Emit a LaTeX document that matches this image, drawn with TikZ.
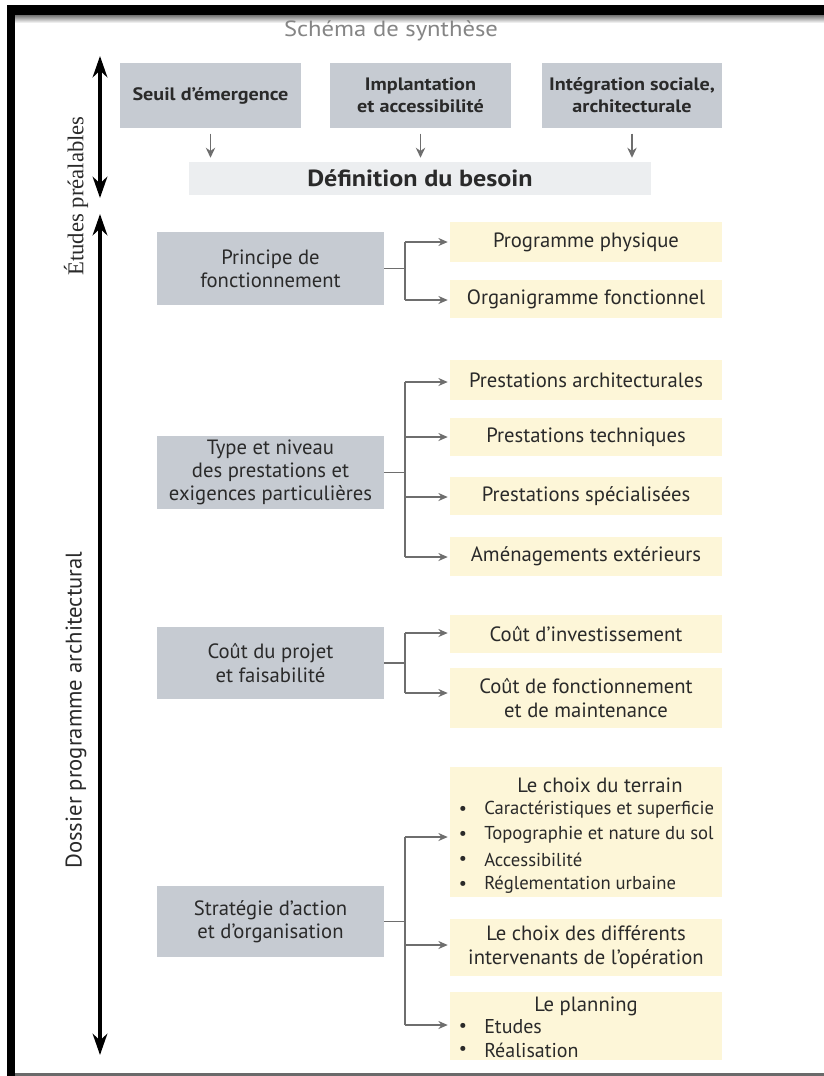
\documentclass[tikz,border=0pt]{standalone}
\usepackage{fontspec}
\setmainfont{PT Sans}
\newfontfamily\seriffam{Liberation Serif}
\newfontfamily\widefam[FakeStretch=1.12]{PT Sans}
\usetikzlibrary{arrows.meta}
\definecolor{boxgray}{HTML}{C6CBD2}
\definecolor{defgray}{HTML}{ECEEF0}
\definecolor{boxyel}{HTML}{FDF6D8}
\definecolor{txt}{HTML}{2A2A2A}
\definecolor{connc}{HTML}{6E6E6E}
\definecolor{titlegray}{HTML}{858585}
\definecolor{bottomgray}{HTML}{6A6A6A}
\begin{document}
\begin{tikzpicture}[x=0.75pt,y=-0.75pt,
  sz/.style 2 args={minimum width=#1*0.75pt, minimum height=#2*0.75pt},
  topbox/.style={fill=boxgray, inner sep=0pt, align=center, text=txt,
    font=\widefam\bfseries\fontsize{13.5}{16.5}\selectfont},
  defbox/.style={fill=defgray, inner sep=0pt, align=center, text=txt,
    font=\widefam\bfseries\fontsize{17.5}{20}\selectfont},
  gbox/.style={fill=boxgray, inner sep=0pt, align=center, text=txt,
    font=\fontsize{15.5}{17.5}\selectfont},
  ybox/.style={fill=boxyel, inner sep=0pt, align=center, text=txt,
    font=\fontsize{15.5}{18.5}\selectfont},
  ytitle/.style={inner sep=0pt, text=txt, font=\fontsize{15.5}{18.5}\selectfont},
  bul/.style={inner sep=0pt, text=txt, font=\fontsize{13.5}{16}\selectfont},
  bultext/.style={inner sep=0pt, anchor=west, text=txt, font=\fontsize{14}{16}\selectfont},
  sidelabel/.style={rotate=90, inner sep=0pt, text=txt},
  bigarrow/.style={{Stealth[length=16pt,width=11pt]}-{Stealth[length=16pt,width=11pt]}, line width=3pt, black},
  darr/.style={-{Stealth[length=7.5pt,width=7pt]}, line width=1.2pt, connc, shorten <=4pt, shorten >=3pt},
  cline/.style={line width=1pt, connc},
  carr/.style={-{Stealth[length=7pt,width=6pt]}, line width=1pt, connc, shorten >=1.5pt}
]
\useasboundingbox (0,0) rectangle (824,1076);
% frame
\fill[white] (0,0) rectangle (824,1076);
\fill[black] (7,5) rectangle (824,15);
\fill[black] (7,5) rectangle (15,1076);
\shade[top color=black!55, bottom color=white] (15,15) rectangle (824,23);
\fill[bottomgray] (15,1073) rectangle (824,1076);

% title
\node[inner sep=0pt, text=titlegray, font=\widefam\fontsize{16.5}{20}\selectfont] (title) at (391,31) {Schéma de synthèse};

% top boxes
\node[topbox, sz={181}{65}] (t1) at (210.5,95.5) {Seuil d’émergence};
\node[topbox, sz={181}{65}] (t2) at (420.5,95.5) {Implantation\\et accessibilité};
\node[topbox, sz={180}{65}] (t3) at (632,95.5) {Intégration sociale,\\architecturale};
\node[defbox, sz={462}{33}] (def) at (420,178.5) {Définition du besoin};
\draw[darr] (t1.south) -- (t1.south |- def.north);
\draw[darr] (t2.south) -- (t2.south |- def.north);
\draw[darr] (t3.south) -- (t3.south |- def.north);

% side arrows and labels
\coordinate (a1t) at (100,56);
\coordinate (a1b) at (100,198);
\coordinate (a2t) at (100,214);
\coordinate (a2b) at (100,1055);
\draw[bigarrow] (a1t) -- (a1b);
\draw[bigarrow] (a2t) -- (a2b);
\node[sidelabel, font=\seriffam\fontsize{17}{20}\selectfont] (etudes) at (76,196) {Études préalables};
\node[sidelabel, font=\fontsize{17}{20}\selectfont] (dossier) at (76,710) {Dossier programme architectural};

% main gray boxes
\node[gbox, sz={227}{73}] (g1) at (270.5,268.5) {Principe de\\fonctionnement};
\node[gbox, sz={227}{73}] (g2) at (270.5,472.5) {Type et niveau\\des prestations et\\exigences particulières};
\node[gbox, sz={227}{72}] (g3) at (270.5,663) {Coût du projet\\et faisabilité};
\node[gbox, sz={227}{71}] (g4) at (270.5,921.5) {Stratégie d’action\\et d’organisation};

% yellow boxes
\node[ybox, sz={272}{40}] (y1a) at (586,242) {Programme physique};
\node[ybox, sz={272}{38}] (y1b) at (586,299) {Organigramme fonctionnel};
\node[ybox, sz={272}{40}] (y2a) at (586,380) {Prestations architecturales};
\node[ybox, sz={272}{38}] (y2b) at (586,437) {Prestations techniques};
\node[ybox, sz={272}{38}] (y2c) at (586,496) {Prestations spécialisées};
\node[ybox, sz={272}{39}] (y2d) at (586,556.5) {Aménagements extérieurs};
\node[ybox, sz={272}{38}] (y3a) at (586,634) {Coût d’investissement};
\node[ybox, sz={272}{60}] (y3b) at (586,698) {Coût de fonctionnement\\et de maintenance};
\node[ybox, sz={272}{130}] (y4a) at (586,832) {};
\node[ybox, sz={272}{57}] (y4b) at (586,947) {Le choix des différents\\intervenants de l’opération};
\node[ybox, sz={272}{68}] (y4c) at (586,1026) {};

% contents of list boxes
\node[ytitle] (y4at) at (600,785) {Le choix du terrain};
\node[bul] (b1) at (463,810) {•};
\node[bultext] (b1t) at (484,810) {Caractéristiques et superficie};
\node[bul] (b2) at (463,835) {•};
\node[bultext] (b2t) at (484,835) {Topographie et nature du sol};
\node[bul] (b3) at (463,860) {•};
\node[bultext] (b3t) at (484,860) {Accessibilité};
\node[bul] (b4) at (463,885) {•};
\node[bultext] (b4t) at (484,885) {Réglementation urbaine};
\node[ytitle] (y4ct) at (586,1006) {Le planning};
\node[bul] (b5) at (463,1027) {•};
\node[bultext, font=\fontsize{15}{18}\selectfont] (b5t) at (484,1027) {Etudes};
\node[bul] (b6) at (463,1050) {•};
\node[bultext, font=\fontsize{15}{18}\selectfont] (b6t) at (484,1050) {Réalisation};

% connectors section 1
\coordinate (r1a) at (405,242);
\coordinate (r1b) at (405,300);
\draw[cline] (g1.east) -- (g1.east -| r1a);
\draw[cline] (r1a) -- (r1b);
\draw[carr] (r1a) -- (r1a -| y1a.west);
\draw[carr] (r1b) -- (r1b -| y1b.west);

% section 2
\coordinate (r2a) at (405,382);
\coordinate (r2b) at (405,437);
\coordinate (r2c) at (405,497);
\coordinate (r2d) at (405,557);
\draw[cline] (g2.east) -- (g2.east -| r2a);
\draw[cline] (r2a) -- (r2d);
\draw[carr] (r2a) -- (r2a -| y2a.west);
\draw[carr] (r2b) -- (r2b -| y2b.west);
\draw[carr] (r2c) -- (r2c -| y2c.west);
\draw[carr] (r2d) -- (r2d -| y2d.west);

% section 3
\coordinate (r3a) at (405,633);
\coordinate (r3b) at (405,693);
\draw[cline] (g3.east) -- (g3.east -| r3a);
\draw[cline] (r3a) -- (r3b);
\draw[carr] (r3a) -- (r3a -| y3a.west);
\draw[carr] (r3b) -- (r3b -| y3b.west);

% section 4
\coordinate (r4a) at (405,837);
\coordinate (r4b) at (405,945);
\coordinate (r4c) at (405,1025);
\draw[cline] (g4.east) -- (g4.east -| r4a);
\draw[cline] (r4a) -- (r4c);
\draw[carr] (r4a) -- (r4a -| y4a.west);
\draw[carr] (r4b) -- (r4b -| y4b.west);
\draw[carr] (r4c) -- (r4c -| y4c.west);
\end{tikzpicture}
\end{document}
